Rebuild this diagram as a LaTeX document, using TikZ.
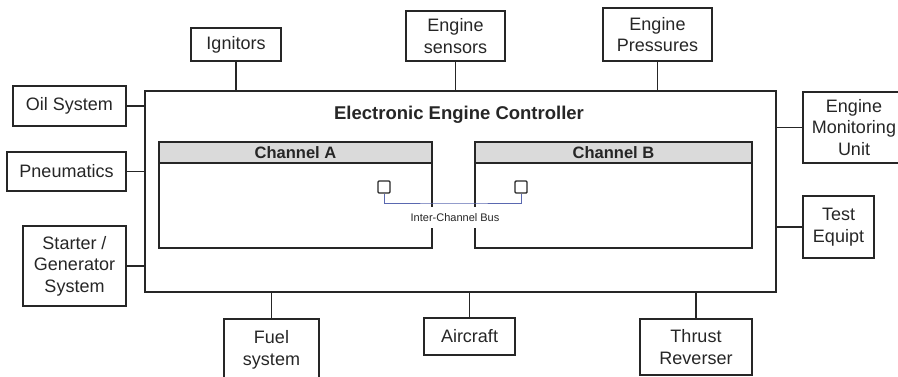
\documentclass[tikz,border=0pt]{standalone}
\usepackage{fontspec}
\setmainfont{Liberation Sans}
\definecolor{ink}{HTML}{262626}
\definecolor{headgray}{HTML}{DADADA}
\definecolor{busblue}{HTML}{5A68B0}

\begin{document}
\begin{tikzpicture}[
  x=1pt, y=-1pt,
  every node/.style = {font=\fontsize{18}{21.5}\selectfont, align=center, inner sep=0pt, text=ink},
  sub/.style 2 args = {draw=ink, line width=1.7pt, minimum width=#1pt, minimum height=#2pt},
  chan/.style 2 args = {draw=ink, line width=1.7pt, minimum width=#1pt, minimum height=#2pt},
  head/.style = {draw=ink, fill=headgray, line width=1.7pt, minimum width=#1pt, minimum height=21pt,
                 font=\fontsize{16.5}{19}\selectfont\bfseries},
  port/.style = {draw=ink, line width=1.4pt, minimum size=12pt, rounded corners=1pt},
  link/.style = {draw=ink, line width=1.7pt},
  busline/.style = {draw=busblue, line width=1pt}
]
\useasboundingbox (0,0) rectangle (898,376);

\node[sub={631}{201}] (eec) at (460.5,191.5) {};
\node[font=\fontsize{18.5}{21}\selectfont\bfseries] (title) at (459,115) {Electronic Engine Controller};

\node[chan={273}{106}] (chA) at (295.5,195) {};
\node[head=273] (hA) at (295.5,152.5) {Channel A};
\node[chan={277}{106}] (chB) at (613.5,195) {};
\node[head=277] (hB) at (613.5,152.5) {Channel B};

\node[port] (pA) at (384,187) {};
\node[port] (pB) at (521,187) {};
\coordinate (bus) at (455,203);
\draw[busline] (pA.south) |- (bus) -| (pB.south);
\node[fill=white, inner xsep=2pt, inner ysep=6pt, font=\fontsize{11}{13}\selectfont] (buslbl) at (455,217.5) {Inter-Channel Bus};

\node[sub={90}{33}] (ign) at (236,44.5) {Ignitors};
\node[sub={99}{50}] (sens) at (455.5,36) {Engine\\sensors};
\node[sub={109}{53}] (pres) at (657.5,34.5) {Engine\\Pressures};
\node[sub={113}{40}] (oil) at (69.5,106) {Oil System};
\node[sub={119}{39}] (pneu) at (66.5,171.5) {Pneumatics};
\node[sub={103}{80}] (start) at (74.5,266) {Starter /\\Generator\\System};
\node[sub={102}{71}] (emu) at (854,127.5) {Engine\\Monitoring\\Unit};
\node[sub={71}{62}] (test) at (838.5,227) {Test\\Equipt};
\node[sub={95}{62}] (fuel) at (271.5,350) {Fuel\\system};
\node[sub={91}{37}] (air) at (469.5,336.5) {Aircraft};
\node[sub={112}{56}] (thr) at (696,347) {Thrust\\Reverser};

\draw[link] (ign) -- (ign |- eec.north);
\draw[link] (sens) -- (sens |- eec.north);
\draw[link] (pres) -- (pres |- eec.north);
\draw[link] (oil) -- (oil -| eec.west);
\draw[link] (pneu) -- (pneu -| eec.west);
\draw[link] (start) -- (start -| eec.west);
\draw[link] (emu) -- (emu -| eec.east);
\draw[link] (test) -- (test -| eec.east);
\draw[link] (fuel) -- (fuel |- eec.south);
\draw[link] (air) -- (air |- eec.south);
\draw[link] (thr) -- (thr |- eec.south);
\end{tikzpicture}
\end{document}
